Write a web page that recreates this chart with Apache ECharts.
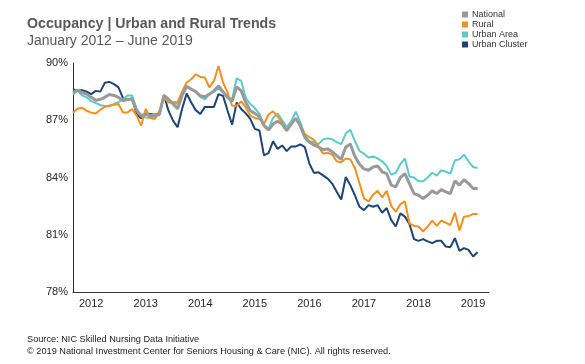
<!DOCTYPE html>
<html>
<head>
<meta charset="utf-8">
<script src="https://cdn.jsdelivr.net/npm/echarts@6/dist/echarts.min.js"></script>
<style>
html,body{margin:0;padding:0;background:#fff;}
#chart{width:585px;height:364px;}
</style>
</head>
<body>
<div id="chart"></div>
<script>
// Monthly points, January 2012 – June 2019 (90 months)
const yearLabels = ["2012","2013","2014","2015","2016","2017","2018","2019"];
const yTicks = [78, 81, 84, 87, 90];
const seriesNames = ["National", "Rural", "Urban Area", "Urban Cluster"];

const national = [
88.45,88.58,88.45,88.37,88.2,88.05,88.1,88.2,88.35,88.3,88.2,88.02,
88.1,88.1,87.5,87.25,87.3,87.25,87.25,87.3,88.3,88.1,87.85,87.6,
88.3,88.78,88.63,88.5,88.28,88.23,88.37,88.54,88.8,88.5,88.2,87.99,
88.75,88.54,87.93,87.5,87.36,87.19,86.72,86.49,86.8,86.95,86.8,86.45,
86.8,87.1,86.7,86.1,85.85,85.7,85.6,85.45,85.5,85.35,85.15,84.95,
85.6,85.75,85.1,84.7,84.45,84.38,84.55,84.6,84.3,84.2,83.6,83.51,
84.0,84.2,83.68,83.16,83.07,82.9,83.07,83.3,83.16,83.37,83.25,83.16,
83.82,83.6,83.89,83.68,83.42,83.42];

const rural = [
87.4,87.6,87.65,87.5,87.4,87.35,87.55,87.7,87.78,87.82,87.85,87.41,
87.41,87.59,87.24,86.72,87.59,87.12,87.07,87.5,88.2,87.93,87.93,87.95,
88.5,88.98,89.15,89.41,89.27,89.24,88.72,89.06,89.84,88.98,88.45,87.76,
87.76,87.99,87.67,87.24,87.12,87.07,86.81,87.3,87.47,87.19,86.9,86.5,
86.8,87.07,86.72,86.28,86.11,85.97,85.6,85.25,85.3,85.2,84.85,84.8,
85.0,84.95,84.5,83.7,82.9,82.75,83.1,83.3,82.95,83.3,82.5,82.2,
82.6,82.75,81.6,81.46,81.43,81.17,81.43,81.74,81.46,81.74,81.63,81.51,
82.16,81.22,81.95,81.98,82.09,82.09];

const urbanArea = [
88.35,88.55,88.3,88.2,88.0,87.9,87.8,87.75,87.72,87.85,87.95,88.1,
88.3,88.3,87.6,87.2,87.15,87.12,87.2,87.3,88.3,88.05,87.95,87.85,
88.37,88.75,88.63,88.5,88.23,88.1,88.37,88.5,88.68,88.45,88.2,88.1,
89.2,89.06,88.16,87.85,87.64,87.33,86.77,86.55,87.12,87.36,87.0,86.65,
86.95,87.45,86.9,86.2,85.9,85.85,85.75,86.0,86.05,86.0,85.85,85.75,
86.3,86.5,85.9,85.4,85.25,85.05,85.1,85.0,84.85,84.6,84.15,84.25,
84.7,85.0,84.05,84.0,83.8,83.8,84.0,84.25,84.1,84.38,84.3,84.2,
84.9,84.95,85.2,84.85,84.55,84.5];

const urbanCluster = [
88.63,88.54,88.58,88.5,88.37,88.54,88.5,88.96,89.01,88.89,88.72,88.16,
88.06,88.16,87.3,87.1,87.36,87.33,87.29,87.36,88.32,87.5,86.98,86.63,
87.6,88.4,87.93,87.53,87.33,87.7,87.7,87.7,88.37,88.28,87.5,86.77,
87.93,87.59,87.36,87.07,86.55,86.46,85.16,85.28,85.9,85.5,85.68,85.38,
85.63,85.63,85.73,85.59,84.72,84.24,84.27,84.11,83.94,83.68,83.25,82.85,
84.03,83.6,83.07,82.47,82.29,82.55,82.47,82.55,82.15,82.4,81.77,81.43,
82.12,81.95,81.56,80.77,80.68,80.77,80.65,80.56,80.68,80.68,80.38,80.35,
80.82,80.16,80.3,80.21,79.86,80.09];

const colors = {
  "National": "#999999",
  "Rural": "#F5901E",
  "Urban Area": "#5CCACA",
  "Urban Cluster": "#1D4477"
};
const widths = {"National": 3, "Rural": 2, "Urban Area": 2, "Urban Cluster": 2};
const values = {"National": national, "Rural": rural, "Urban Area": urbanArea, "Urban Cluster": urbanCluster};

const toPoints = arr => arr.map((v, i) => [i, v]);
// label positions: one per year (month index 4 of each year)
const labelPositions = yearLabels.map((y, k) => k * 12 + 4);

const FONT = '"Liberation Sans", Arial, sans-serif';
const drawOrder = ["Urban Cluster", "Urban Area", "Rural", "National"];

const chart = echarts.init(document.getElementById('chart'), null, {renderer: 'canvas'});
chart.setOption({
  animation: false,
  backgroundColor: '#ffffff',
  textStyle: {fontFamily: FONT},
  title: [{
    text: 'Occupancy | Urban and Rural Trends',
    subtext: 'January 2012 \u2013 June 2019',
    left: 22, top: 12,
    itemGap: 3,
    textStyle: {fontFamily: FONT, fontSize: 14.2, fontWeight: 'bold', color: '#595959'},
    subtextStyle: {fontFamily: FONT, fontSize: 14, color: '#595959'}
  }],
  legend: {
    orient: 'vertical',
    left: 457, top: 5,
    itemWidth: 6, itemHeight: 6, itemGap: 1,
    icon: 'rect',
    data: seriesNames,
    textStyle: {fontFamily: FONT, fontSize: 9, color: '#333333', padding: [0,0,0,-1], lineHeight: 9}
  },
  grid: {left: 73, right: 96, top: 63, bottom: 72, containLabel: false},
  xAxis: {
    type: 'value', min: 0, max: 91.5,
    axisLine: {show: true, onZero: false, lineStyle: {color: '#333333', width: 1}},
    axisTick: {show: false},
    splitLine: {show: false},
    axisLabel: {
      customValues: labelPositions,
      formatter: v => yearLabels[Math.round((v - 4) / 12)] || '',
      fontFamily: FONT, fontSize: 11, color: '#262626', margin: 6
    }
  },
  yAxis: {
    type: 'value', min: 78, max: 90, interval: 3,
    axisLine: {show: true, onZero: false, lineStyle: {color: '#333333', width: 1}},
    axisTick: {show: false},
    splitLine: {show: false},
    axisLabel: {formatter: '{value}%', fontFamily: FONT, fontSize: 11, color: '#262626', margin: 5}
  },
  series: drawOrder.map(name => ({
    name: name,
    type: 'line',
    data: toPoints(values[name]),
    showSymbol: false,
    symbol: 'none',
    color: colors[name],
    lineStyle: {color: colors[name], width: widths[name]},
    z: 2
  })),
  graphic: [
    {type: 'text', left: 27, top: 335, style: {text: 'Source: NIC Skilled Nursing Data Initiative', font: '9.2px ' + FONT, fill: '#1a1a1a'}},
    {type: 'text', left: 27, top: 347, style: {text: '\u00a9 2019 National Investment Center for Seniors Housing & Care (NIC). All rights reserved.', font: '9.2px ' + FONT, fill: '#1a1a1a'}}
  ]
});
</script>
</body>
</html>
